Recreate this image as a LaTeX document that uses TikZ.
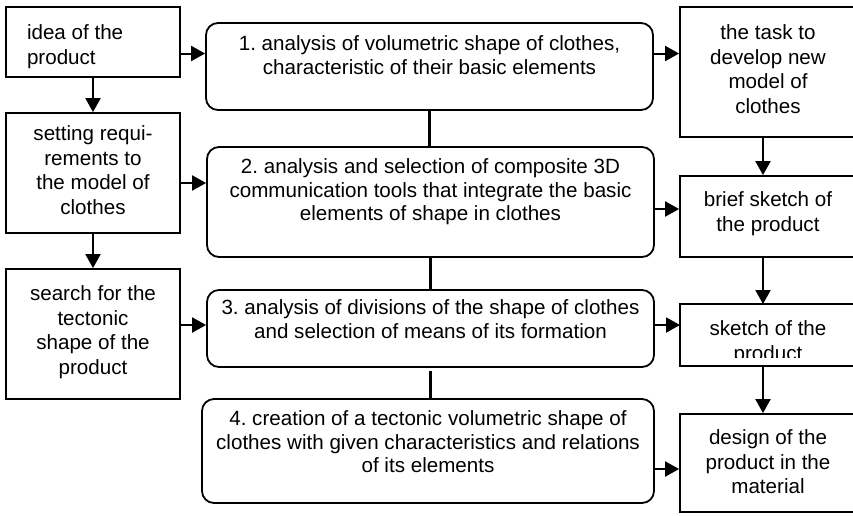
\documentclass[tikz,border=0pt]{standalone}
\usepackage{fontspec}
\setmainfont{Liberation Sans}
\usetikzlibrary{arrows.meta}
\frenchspacing

% box body: width, height, height of the first line, text
\newcommand\cellbodyc[4]{\parbox[c][#2][t]{#1}{\centering\rule{0pt}{#3}#4}}
\newcommand\cellbodyl[4]{\parbox[c][#2][t]{#1}{\raggedright\leftskip=21pt\rule{0pt}{#3}#4}}

\begin{document}
\begin{tikzpicture}[x=1pt,y=-1pt,
  font=\fontsize{20.6}{24.5}\selectfont,
  sidebox/.style={draw,rectangle,line width=1.8pt,inner sep=0pt},
  stagebox/.style={draw,rectangle,rounded corners=12pt,line width=1.8pt,inner sep=0pt},
  arr/.style={line width=2pt,-{Triangle[length=14pt,width=15pt]}},
  link/.style={line width=3.6pt}]

\clip (0,0) rectangle (853,515);
\fill[white] (0,0) rectangle (853,515);

% left column
\node[sidebox] (idea) at (93,42) {\cellbodyl{174pt}{70pt}{32.5pt}{idea of the\\product}};
\node[sidebox] (req) at (93,173) {\cellbodyc{174pt}{120pt}{27.5pt}{setting requi-\\rements to\\the model of\\clothes}};
\node[sidebox] (search) at (93,334) {\cellbodyc{174pt}{130pt}{31.5pt}{search for the\\tectonic\\shape of the\\product}};

% middle column: stages
\begin{scope}[font=\fontsize{20.6}{23.5}\selectfont]
\node[stagebox] (s1) at (429.5,66.5) {\cellbodyc{447pt}{87pt}{27.5pt}{1. analysis of volumetric shape of clothes,\\characteristic of their basic elements}};
\node[stagebox] (s2) at (430.5,202) {\cellbodyc{447pt}{110pt}{26.5pt}{2. analysis and selection of composite 3D\\communication tools that integrate the basic\\elements of shape in clothes}};
\node[stagebox] (s3) at (430.5,328.5) {\cellbodyc{447pt}{77pt}{24.5pt}{3. analysis of divisions of the shape of clothes\\and selection of means of its formation}};
\node[stagebox] (s4) at (428,451) {\cellbodyc{452pt}{104pt}{26.5pt}{4. creation of a tectonic volumetric shape of\\clothes with given characteristics and relations\\of its elements}};
\end{scope}

% right column
\node[sidebox] (task) at (768,72) {\cellbodyc{176pt}{130pt}{32.5pt}{the task to\\develop new\\model of\\clothes}};
\node[sidebox] (brief) at (768,216.5) {\cellbodyc{176pt}{81pt}{30.5pt}{brief sketch of\\the product}};
% the second line of this box runs past its lower edge and is cut off
\begin{scope}
  \clip (670,295) rectangle (870,357.5);
  \node[sidebox,outer sep=0pt] (sketch) at (768,335) {\cellbodyc{176pt}{62pt}{31.7pt}{sketch of the\\product}};
\end{scope}
\draw[line width=1.8pt] (sketch.south west) rectangle (sketch.north east);
\node[sidebox] (design) at (768,463) {\cellbodyc{176pt}{98pt}{30.5pt}{design of the\\product in the\\material}};

% heights of the horizontal arrows
\coordinate (row1) at (0,53.5);
\coordinate (row2a) at (0,183);
\coordinate (row2b) at (0,209);
\coordinate (row3) at (0,325);
\coordinate (row4) at (0,469);

% left column flow
\draw[arr] (idea.south) -- (req.north);
\draw[arr] (req.south) -- (search.north);

% right column flow
\draw[arr] ([xshift=-5pt]task.south) -- ([xshift=-5pt]brief.north);
\draw[arr] ([xshift=-5pt]brief.south) -- ([xshift=-5pt]sketch.north);
\draw[arr] ([xshift=-5pt]sketch.south) -- ([xshift=-5pt]design.north);

% into the stages
\draw[arr] (idea.east |- row1) -- (s1.west |- row1);
\draw[arr] (req.east |- row2a) -- (s2.west |- row2a);
\draw[arr] (search.east |- row3) -- (s3.west |- row3);

% out of the stages
\draw[arr] (s1.east |- row1) -- (task.west |- row1);
\draw[arr] (s2.east |- row2b) -- (brief.west |- row2b);
\draw[arr] (s3.east |- row3) -- (sketch.west |- row3);
\draw[arr] (s4.east |- row4) -- (design.west |- row4);

% links between the stages
\draw[link] (s1.south) -- (s1.south |- s2.north);
\draw[link] (s2.south) -- (s2.south |- s3.north);
\draw[link,shorten <=3pt] (s3.south) -- (s3.south |- s4.north);
\end{tikzpicture}
\end{document}
